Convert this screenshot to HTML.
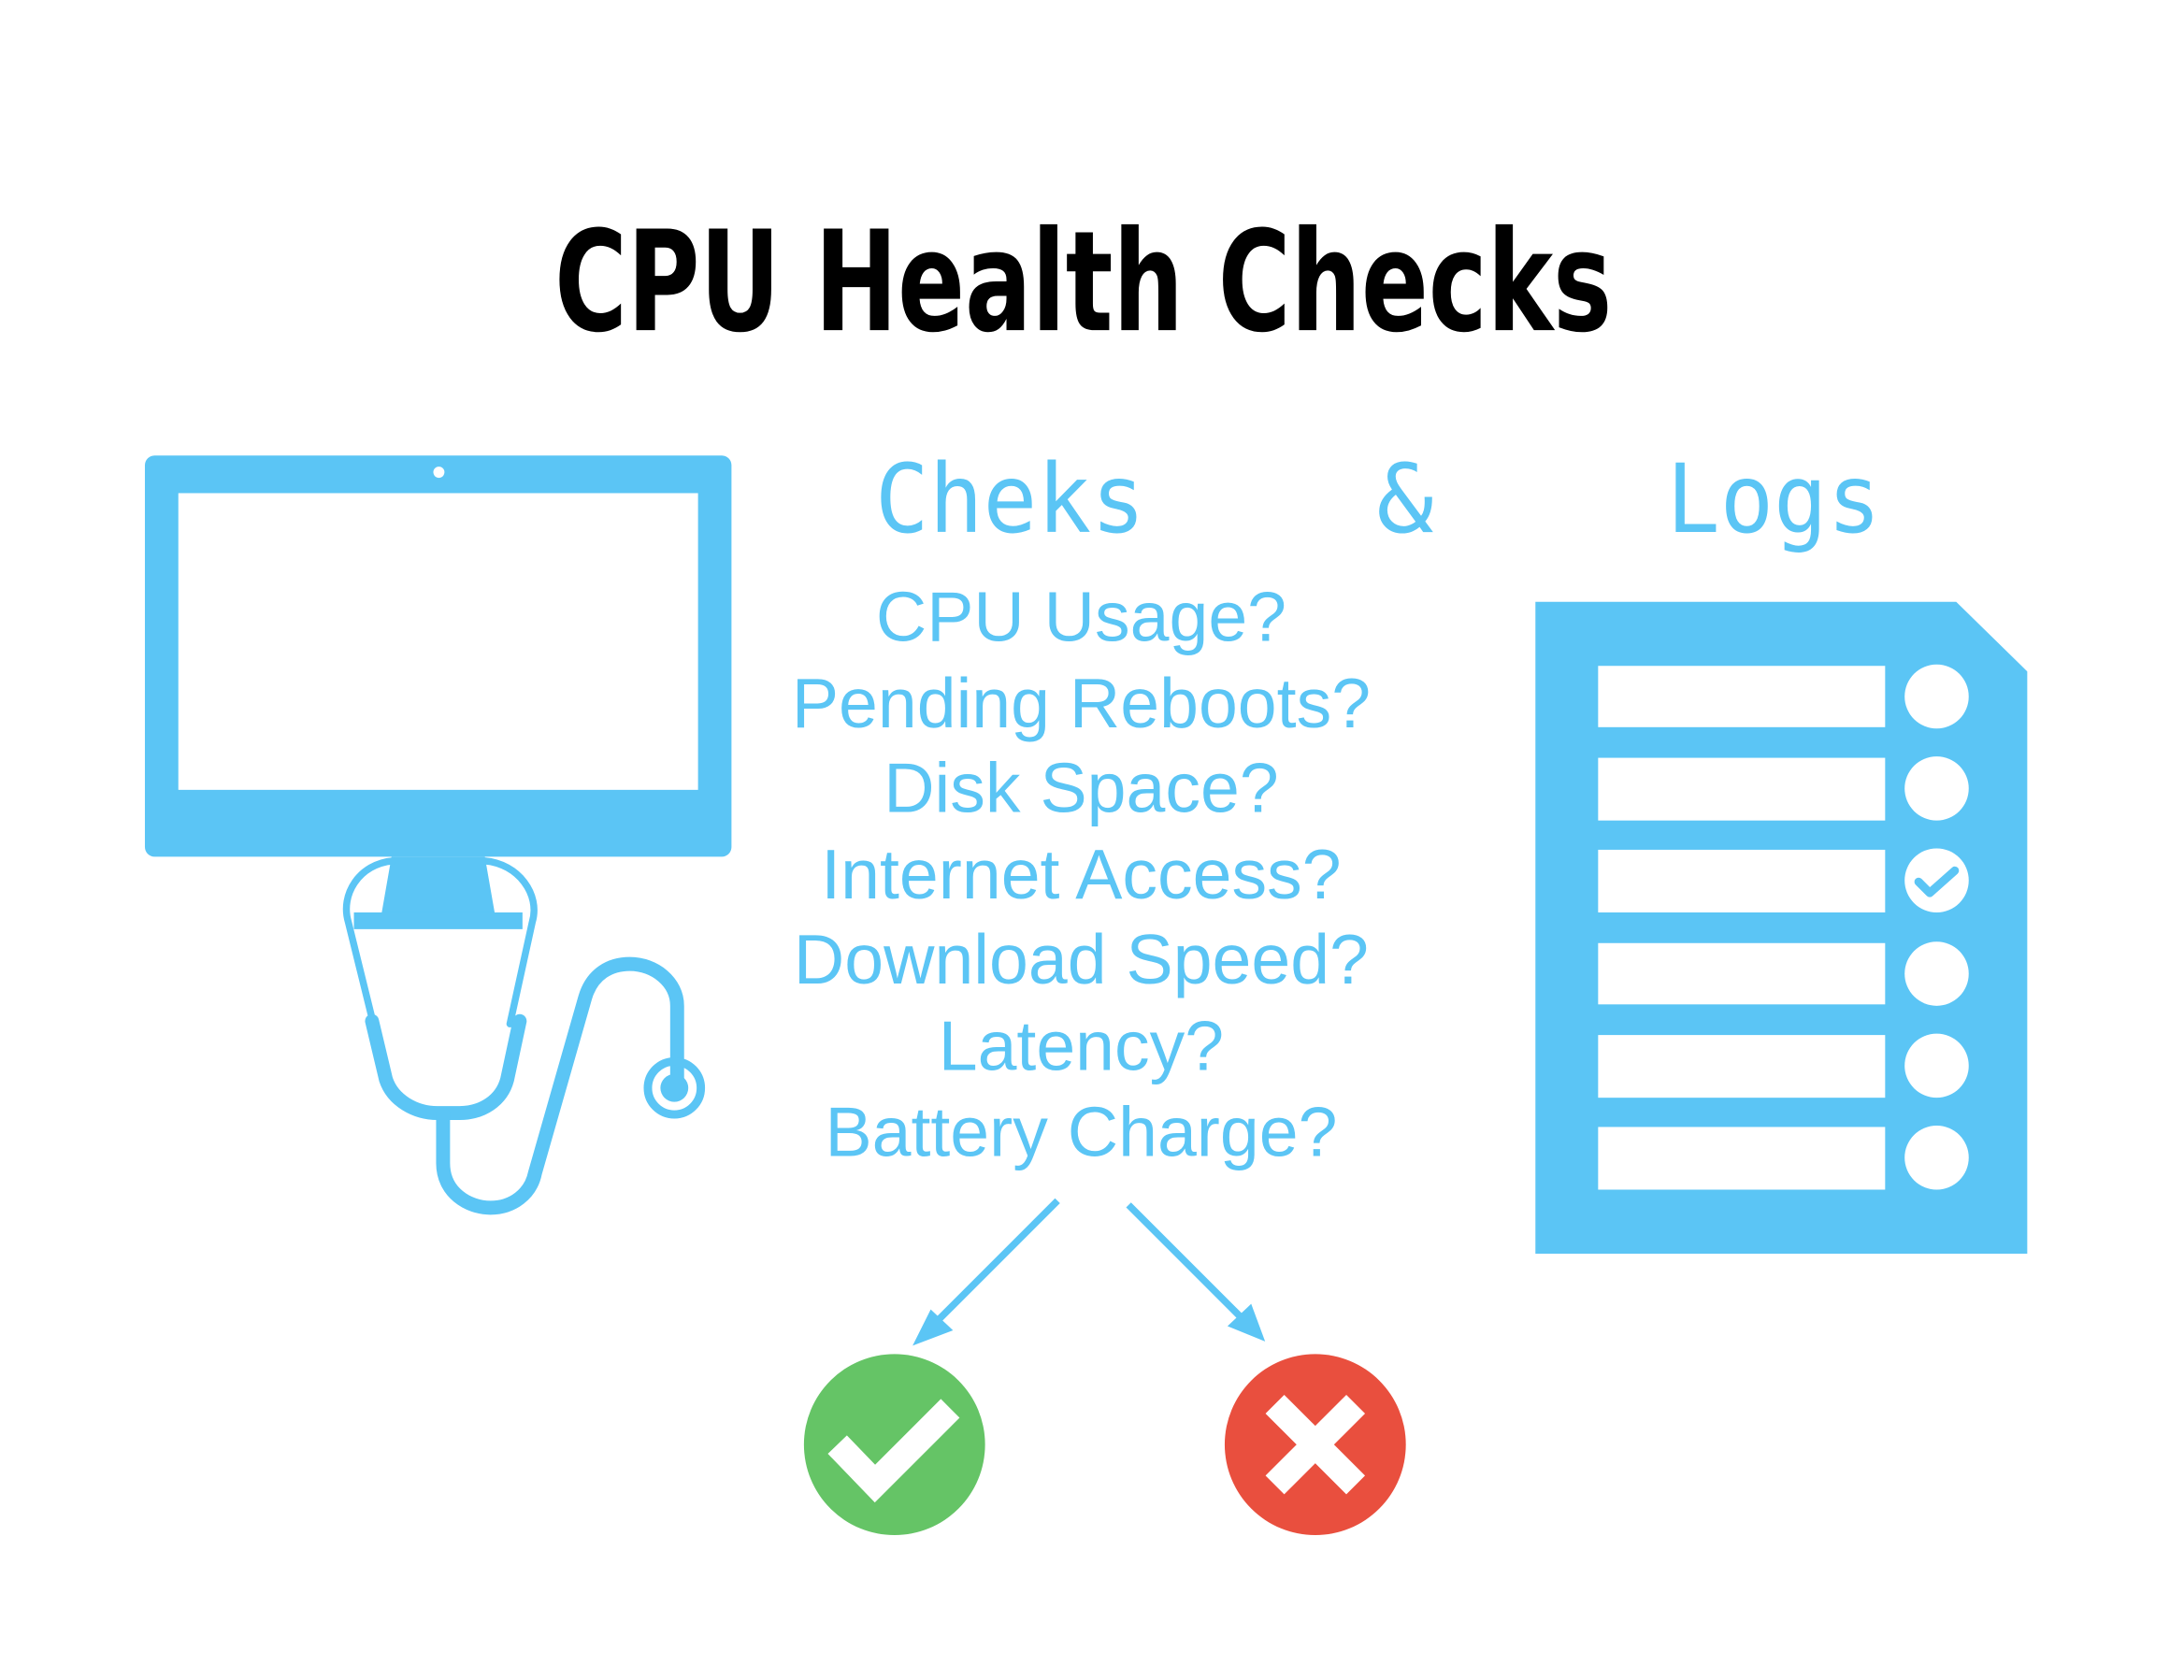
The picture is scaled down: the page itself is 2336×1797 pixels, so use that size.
<!DOCTYPE html>
<html><head><meta charset="utf-8"><style>
html,body{margin:0;padding:0;background:#fff;}
svg{display:block;}
</style></head><body>
<svg width="2336" height="1797" viewBox="0 0 1567.5 1206" preserveAspectRatio="none" xmlns="http://www.w3.org/2000/svg">
<rect width="1567.5" height="1206" fill="#fff"/>
<text x="398" y="237" font-family="'DejaVu Sans Condensed','DejaVu Sans',sans-serif" font-weight="bold" font-size="100" textLength="759" lengthAdjust="spacingAndGlyphs" fill="#000">CPU Health Checks</text>

<!-- monitor -->
<rect x="104" y="327" width="421" height="288" rx="7" fill="#5bc5f5"/>
<rect x="128" y="354" width="373" height="213" fill="#fff"/>
<circle cx="315" cy="339" r="4" fill="#fff"/>
<polygon points="281,615 348,615 355,655 274,655" fill="#5bc5f5"/>
<rect x="254" y="655" width="121" height="12" fill="#5bc5f5"/>
<!-- stethoscope -->
<g fill="none" stroke="#5bc5f5" stroke-linecap="round" stroke-linejoin="round">
<path d="M282,618 C258,620 244,642 250,662 L268,735" stroke-width="5"/>
<path d="M348,618 C372,620 388,642 382,662 L366,735" stroke-width="5"/>
<path d="M267,733 L277,775 C282,790 298,799 314,799 L330,799 C346,799 360,790 364,775 L373,733" stroke-width="10"/>
<path d="M318,800 L318,835 C318,856 336,867 352,867 C368,867 381,857 384,842 L420,716 C425,699 438,692 452,692 C470,692 486,705 486,722 L486,778" stroke-width="10"/>
<circle cx="484" cy="781" r="19" stroke-width="6"/>
</g>
<circle cx="484" cy="781" r="10" fill="#5bc5f5"/>

<!-- headings -->
<g fill="#5bc5f5" font-family="'DejaVu Sans Mono','Liberation Mono',monospace" font-size="68">
<text x="628" y="382" textLength="194" lengthAdjust="spacingAndGlyphs">Cheks</text>
<text x="988" y="382">&amp;</text>
<text x="1196" y="382" textLength="154" lengthAdjust="spacingAndGlyphs">Logs</text>
</g>
<g fill="#5bc5f5" font-family="'Liberation Sans',Arial,sans-serif" font-size="50.5" text-anchor="middle">
<text x="776" y="460">CPU Usage?</text>
<text x="776" y="522">Pending Reboots?</text>
<text x="776" y="583">Disk Space?</text>
<text x="776" y="645">Internet Access?</text>
<text x="776" y="706">Download Speed?</text>
<text x="776" y="768">Latency?</text>
<text x="776" y="830">Battery Charge?</text>
</g>

<!-- arrows -->
<g stroke="#5bc5f5" stroke-width="5">
<line x1="759" y1="862" x2="670" y2="951"/>
<line x1="810" y1="865" x2="894" y2="949"/>
</g>
<polygon points="655,966 668,940 684,955" fill="#5bc5f5"/>
<polygon points="908,963 898,936 881,952" fill="#5bc5f5"/>

<!-- result circles -->
<circle cx="642" cy="1037" r="65" fill="#65c466"/>
<polyline points="601,1037 628,1065 682,1011" fill="none" stroke="#fff" stroke-width="19"/>
<circle cx="944" cy="1037" r="65" fill="#e94f3e"/>
<g stroke="#fff" stroke-width="19">
<line x1="915" y1="1008" x2="973" y2="1066"/>
<line x1="973" y1="1008" x2="915" y2="1066"/>
</g>

<!-- document -->
<polygon points="1102,432 1404,432 1455,482 1455,900 1102,900" fill="#5bc5f5"/>
<g fill="#fff">
<rect x="1147" y="478" width="206" height="44"/>
<rect x="1147" y="544" width="206" height="45"/>
<rect x="1147" y="610" width="206" height="45"/>
<rect x="1147" y="677" width="206" height="44"/>
<rect x="1147" y="743" width="206" height="45"/>
<rect x="1147" y="809" width="206" height="45"/>
<circle cx="1390" cy="500" r="23"/>
<circle cx="1390" cy="566" r="23"/>
<circle cx="1390" cy="632" r="23"/>
<circle cx="1390" cy="699" r="23"/>
<circle cx="1390" cy="765" r="23"/>
<circle cx="1390" cy="831" r="23"/>
</g>
<polyline points="1377,633 1385,641 1403,625" fill="none" stroke="#5bc5f5" stroke-width="6" stroke-linecap="round" stroke-linejoin="round"/>
</svg>
</body></html>
